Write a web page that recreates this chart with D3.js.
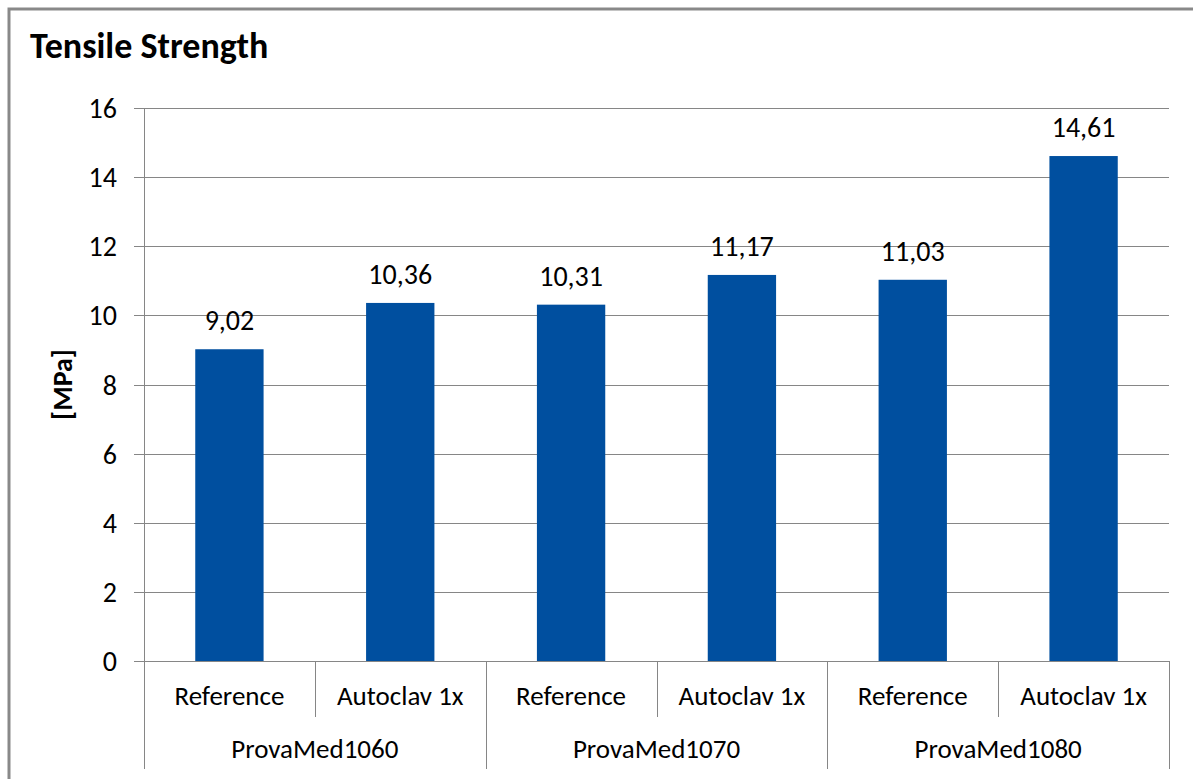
<!DOCTYPE html>
<html>
<head>
<meta charset="utf-8">
<script src="https://cdn.jsdelivr.net/npm/d3@7"></script>
<style>
  body { margin: 0; background: #fff; }
  svg { display: block; }
  text { font-family: Carlito, Calibri, "Open Sans", "Noto Sans", sans-serif; fill: #000; }
</style>
</head>
<body>
<div id="chart"></div>
<script>
// Tensile strength per material / treatment
const groups = ["ProvaMed1060", "ProvaMed1070", "ProvaMed1080"];
const treatments = ["Reference", "Autoclav 1x"];
const values = [9.02, 10.36, 10.31, 11.17, 11.03, 14.61];
const yTicks = [0, 2, 4, 6, 8, 10, 12, 14, 16];

const width = 1193, height = 779;
const plot = { left: 144, right: 1169, top: 108, bottom: 661 };
const labelSize = "28px";

const svg = d3.select("#chart").append("svg")
    .attr("width", width)
    .attr("height", height);

// outer frame (cut off at the right / bottom like the source)
svg.append("rect")
    .attr("x", 9).attr("y", 9)
    .attr("width", width + 20).attr("height", height + 20)
    .attr("fill", "#fff")
    .attr("stroke", "#898989")
    .attr("stroke-width", 3);

svg.append("text")
    .attr("x", 30).attr("y", 58)
    .attr("font-size", "36px")
    .attr("font-weight", "bold")
    .text("Tensile Strength");

// flat list of bars: one per group x treatment
const bars = [];
groups.forEach((g, gi) => treatments.forEach((t, ti) => {
    bars.push({ key: g + "|" + t, group: g, treatment: t, value: values[gi * treatments.length + ti] });
}));

const x = d3.scaleBand()
    .domain(bars.map(d => d.key))
    .range([plot.left, plot.right])
    .paddingInner(0).paddingOuter(0);

const y = d3.scaleLinear().domain([0, 16]).range([plot.bottom, plot.top]);

// gridlines + tick marks
svg.append("g").selectAll("line")
    .data(yTicks)
    .enter().append("line")
    .attr("x1", plot.left - 10)
    .attr("x2", plot.right)
    .attr("y1", d => Math.round(y(d)) + 0.5)
    .attr("y2", d => Math.round(y(d)) + 0.5)
    .attr("stroke", "#868686")
    .attr("stroke-width", 1);

svg.append("g").selectAll("text")
    .data(yTicks)
    .enter().append("text")
    .attr("x", plot.left - 27)
    .attr("y", d => y(d) + 10)
    .attr("text-anchor", "end")
    .attr("font-size", labelSize)
    .text(d => d);

// y axis line
svg.append("line")
    .attr("x1", plot.left + 0.5).attr("x2", plot.left + 0.5)
    .attr("y1", plot.top).attr("y2", plot.bottom)
    .attr("stroke", "#868686");

svg.append("text")
    .attr("transform", `translate(72, ${(plot.top + plot.bottom) / 2}) rotate(-90)`)
    .attr("text-anchor", "middle")
    .attr("font-size", labelSize)
    .attr("font-weight", "bold")
    .text("[MPa]");

// bars
const barW = x.bandwidth() * 0.4;
svg.append("g").selectAll("rect")
    .data(bars)
    .enter().append("rect")
    .attr("x", d => x(d.key) + (x.bandwidth() - barW) / 2)
    .attr("y", d => y(d.value))
    .attr("width", barW)
    .attr("height", d => y(0) - y(d.value))
    .attr("fill", "#004F9F");

svg.append("g").selectAll("text")
    .data(bars)
    .enter().append("text")
    .attr("x", d => x(d.key) + x.bandwidth() / 2)
    .attr("y", d => y(d.value) - 19)
    .attr("text-anchor", "middle")
    .attr("font-size", labelSize)
    .text(d => d.value.toFixed(2).replace(".", ","));

// multi-level category axis
const axisG = svg.append("g");
const nT = treatments.length;
d3.range(bars.length + 1).forEach(i => {
    const xp = i < bars.length ? x(bars[i].key) : plot.right;
    const isGroupEdge = i % nT === 0;
    axisG.append("line")
        .attr("x1", Math.round(xp) + 0.5).attr("x2", Math.round(xp) + 0.5)
        .attr("y1", plot.bottom)
        .attr("y2", isGroupEdge ? 769 : 717)
        .attr("stroke", "#868686");
});

axisG.selectAll("text.sub")
    .data(bars)
    .enter().append("text")
    .attr("class", "sub")
    .attr("x", d => x(d.key) + x.bandwidth() / 2)
    .attr("y", 705)
    .attr("text-anchor", "middle")
    .attr("font-size", "27px")
    .text(d => d.treatment);

axisG.selectAll("text.grp")
    .data(groups)
    .enter().append("text")
    .attr("class", "grp")
    .attr("x", g => {
        const a = x(g + "|" + treatments[0]);
        const b = x(g + "|" + treatments[nT - 1]) + x.bandwidth();
        return (a + b) / 2;
    })
    .attr("y", 758)
    .attr("text-anchor", "middle")
    .attr("font-size", "27px")
    .text(g => g);
</script>
</body>
</html>
